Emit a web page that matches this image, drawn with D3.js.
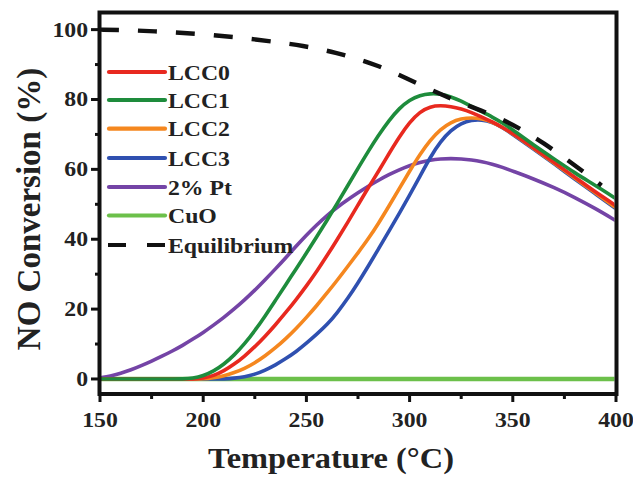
<!DOCTYPE html>
<html><head><meta charset="utf-8">
<script src="https://cdn.jsdelivr.net/npm/d3@7"></script>
<style>
html,body{margin:0;padding:0;background:#fff;}
svg{display:block;}
</style></head>
<body>
<svg id="chart" width="633" height="477"></svg>
<script>
// ---- data ----
const temps = [150,155,160,165,170,175,180,185,190,195,200,205,210,215,220,225,230,235,240,245,250,255,260,265,270,275,280,285,290,295,300,305,310,315,320,325,330,335,340,345,350,360,370,380,390,400];
const lcc0 = [0,0,0,0,0,0,0,0,0,0,0.2,0.9,2.3,4.2,6.5,9.2,12.2,15.5,19,22.7,26.6,30.8,35.3,40,44.8,49.8,54.8,59.5,64.5,69.3,73.5,76.5,78,78.3,78,77.3,76.3,75,73.6,72,70.3,66.2,62,57.8,53.5,49.6];
const lcc1 = [0,0,0,0,0,0,0,0,0,0.2,0.9,2.2,4.2,6.8,10,13.8,18,22.5,27,31.5,36,40.7,45.4,50.3,55.3,60.3,65.2,69.8,74,77.5,79.9,81.2,81.7,81.6,80.8,79.6,78,76.5,75,73.3,71.3,67,63,59,55.4,51.6];
const lcc2 = [0,0,0,0,0,0,0,0,0,0,0,0.3,0.9,1.8,3,4.6,6.6,8.9,11.5,14.4,17.6,21,24.6,28.3,32.2,36.1,40.1,44.6,49.5,54.5,59.5,64.3,68.4,71.5,73.5,74.5,74.8,74.5,73.6,72,70.2,66,61.8,57.5,53.3,49];
const lcc3 = [0,0,0,0,0,0,0,0,0,0,0,0,0,0.2,0.6,1.3,2.5,4,5.8,7.8,10.2,12.8,15.5,19,23,27.5,32.3,37.3,42.3,47.4,52.6,58,63.5,68,71.2,73.2,74.1,74.2,73.5,72,70,65.8,61.6,57.2,53,48.7];
const pt2 = [0.3,0.8,1.6,2.6,3.8,5.1,6.5,8,9.6,11.4,13.3,15.4,17.6,20,22.6,25.4,28.4,31.5,34.7,38,41.2,44.1,46.8,49.2,51.3,53.3,55.2,56.9,58.5,59.9,61.1,62,62.7,63,63.1,63,62.7,62.2,61.5,60.6,59.5,57.3,54.8,52,48.8,45.3];
const cuo = temps.map(() => 0);
const eqTemps = [150,160,175,200,225,250,265,275,285,295,305,315,325,335,345,355,365,375,385,393];
const eqValues = [100,99.9,99.6,98.7,97.3,95.3,93.3,91.6,89.6,87,84.3,81.5,79,76.8,74.3,71.2,67.5,63.3,59,55.4];
const seriesNames = ["LCC0","LCC1","LCC2","LCC3","2% Pt","CuO","Equilibrium"];
const seriesColors = ["#e8291f","#1e8c3c","#f5871f","#2f50b0","#7444a6","#6cc04a","#111"];
const xTicks = [150,200,250,300,350,400];
const xMinor = [175,225,275,325,375];
const yTicks = [0,20,40,60,80,100];
const yMinor = [10,30,50,70,90];

// ---- chart ----
const FONT = "'Liberation Serif', Tinos, 'Times New Roman', Times, serif";
const svg = d3.select("#chart");
const x = d3.scaleLinear().domain([150,400]).range([100,616]);
const y = d3.scaleLinear().domain([-4.3,104.9]).range([394,12.5]);
const SX = 1.08; // horizontal stretch of text

function styleText(sel){
  sel.attr("font-family",FONT).attr("font-weight","bold").attr("fill","#222");
}
function stretchText(sel){
  styleText(sel);
  sel.each(function(){
    const t = d3.select(this);
    const tx = +t.attr("x")||0, ty = +t.attr("y")||0;
    t.attr("x",0).attr("y",0).attr("transform",`translate(${tx},${ty}) scale(${SX},1)`);
  });
}

const clipId = "plotclip";
svg.append("clipPath").attr("id",clipId).append("rect")
  .attr("x",101).attr("y",14).attr("width",513.5).attr("height",378);

const plot = svg.append("g").attr("clip-path",`url(#${clipId})`);
const line = (xs,vals) => d3.line().x((d,i)=>x(xs[i])).y(d=>y(d)).curve(d3.curveBasis)(vals);

plot.append("path").attr("d",line(temps,cuo)).attr("fill","none")
  .attr("stroke",seriesColors[5]).attr("stroke-width",4.5);
const order = [[pt2,4],[lcc3,3],[lcc2,2],[lcc0,0],[lcc1,1]];
order.forEach(([vals,ci])=>{
  plot.append("path").attr("d",line(temps,vals)).attr("fill","none")
    .attr("stroke",seriesColors[ci]).attr("stroke-width",3.6).attr("stroke-linejoin","round");
});
plot.append("path").attr("d",line(eqTemps,eqValues)).attr("fill","none")
  .attr("stroke","#111").attr("stroke-width",4.4).attr("stroke-dasharray","19,19");

// axes
const xAxis = svg.append("g").attr("transform","translate(0,394)");
xAxis.selectAll("line.maj").data(xTicks).enter().append("line")
  .attr("x1",d=>x(d)).attr("x2",d=>x(d)).attr("y1",0).attr("y2",8)
  .attr("stroke","#111").attr("stroke-width",3);
xAxis.selectAll("line.min").data(xMinor).enter().append("line")
  .attr("x1",d=>x(d)).attr("x2",d=>x(d)).attr("y1",0).attr("y2",5)
  .attr("stroke","#111").attr("stroke-width",3);
xAxis.selectAll("text").data(xTicks).enter().append("text")
  .attr("x",d=>x(d)).attr("y",33).attr("text-anchor","middle")
  .attr("font-size",22).text(d=>d).call(stretchText);

const yAxis = svg.append("g");
yAxis.selectAll("line.maj").data(yTicks).enter().append("line")
  .attr("x1",91).attr("x2",100).attr("y1",d=>y(d)).attr("y2",d=>y(d))
  .attr("stroke","#111").attr("stroke-width",3);
yAxis.selectAll("line.min").data(yMinor).enter().append("line")
  .attr("x1",95).attr("x2",100).attr("y1",d=>y(d)).attr("y2",d=>y(d))
  .attr("stroke","#111").attr("stroke-width",3);
yAxis.selectAll("text").data(yTicks).enter().append("text")
  .attr("x",88).attr("y",d=>y(d)+7).attr("text-anchor","end")
  .attr("font-size",22).text(d=>d).call(stretchText);

// frame
svg.append("rect").attr("x",99.5).attr("y",12.5).attr("width",517).attr("height",381.5)
  .attr("fill","none").attr("stroke","#111").attr("stroke-width",4);

// titles
svg.append("text").attr("x",331).attr("y",468).attr("text-anchor","middle")
  .attr("font-size",30).text("Temperature (°C)").call(stretchText);
svg.append("text").attr("transform","translate(40,209) rotate(-90)")
  .attr("text-anchor","middle").attr("font-size",33).text("NO Conversion (%)").call(styleText);

// legend
const legend = svg.append("g");
const rowY = [72,100,128.7,158,187,215.5,245];
seriesNames.forEach((name,i)=>{
  const g = legend.append("g");
  const ln = g.append("line").attr("x1",109).attr("x2",165).attr("y1",rowY[i]).attr("y2",rowY[i])
    .attr("stroke",seriesColors[i]).attr("stroke-width",4.2).attr("stroke-linecap","round");
  if(i===6) ln.attr("stroke-dasharray","18,21").attr("stroke-linecap","butt").attr("x1",108);
  g.append("text").attr("x",168).attr("y",rowY[i]+7.5).attr("font-size",22).text(name).call(stretchText);
});
</script>
</body></html>
